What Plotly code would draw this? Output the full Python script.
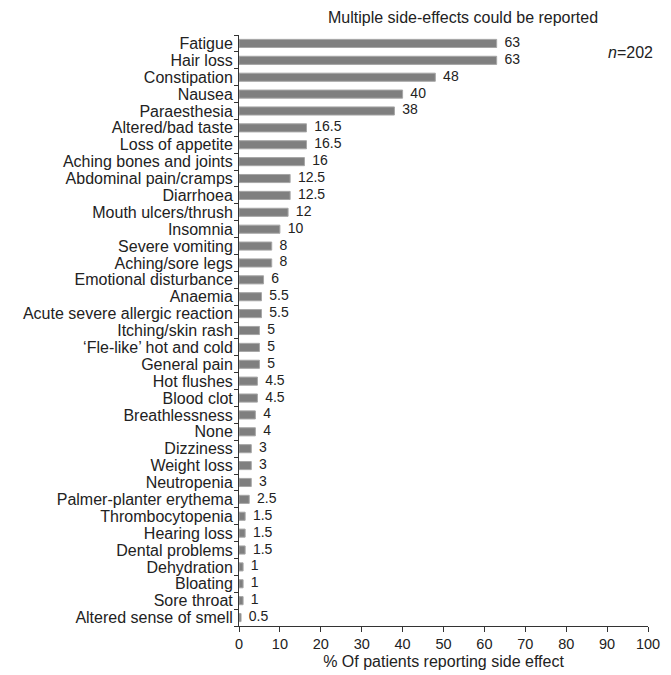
import plotly.graph_objects as go

categories = ["Fatigue", "Hair loss", "Constipation", "Nausea", "Paraesthesia",
              "Altered/bad taste", "Loss of appetite", "Aching bones and joints",
              "Abdominal pain/cramps", "Diarrhoea", "Mouth ulcers/thrush", "Insomnia",
              "Severe vomiting", "Aching/sore legs", "Emotional disturbance", "Anaemia",
              "Acute severe allergic reaction", "Itching/skin rash", "\u2018Fle-like\u2019 hot and cold",
              "General pain", "Hot flushes", "Blood clot", "Breathlessness", "None",
              "Dizziness", "Weight loss", "Neutropenia", "Palmer-planter erythema",
              "Thrombocytopenia", "Hearing loss", "Dental problems", "Dehydration",
              "Bloating", "Sore throat", "Altered sense of smell"]
values = [63, 63, 48, 40, 38, 16.5, 16.5, 16, 12.5, 12.5, 12, 10, 8, 8, 6, 5.5, 5.5,
          5, 5, 5, 4.5, 4.5, 4, 4, 3, 3, 3, 2.5, 1.5, 1.5, 1.5, 1, 1, 1, 0.5]
value_labels = ["63", "63", "48", "40", "38", "16.5", "16.5", "16", "12.5", "12.5", "12",
                "10", "8", "8", "6", "5.5", "5.5", "5", "5", "5", "4.5", "4.5", "4", "4",
                "3", "3", "3", "2.5", "1.5", "1.5", "1.5", "1", "1", "1", "0.5"]
x_ticks = [0, 10, 20, 30, 40, 50, 60, 70, 80, 90, 100]

FONT = "Liberation Sans, Arial, Helvetica, sans-serif"

fig = go.Figure()
fig.add_trace(go.Bar(
    x=values, y=categories, orientation="h",
    marker=dict(color="#7f7f7f", line=dict(color="#a6a6a6", width=1)),
    width=0.48, hoverinfo="x+y",
))
fig.add_trace(go.Scatter(
    x=values, y=categories, mode="text",
    text=["\u00a0\u00a0" + t for t in value_labels], textposition="middle right",
    textfont=dict(size=14, color="#222", family=FONT),
    cliponaxis=False, hoverinfo="skip",
))

# page body has an 8px margin, so the figure is sized/offset to compensate
fig.update_layout(
    width=663, height=667,
    margin=dict(l=231, r=23, t=27, b=49),
    paper_bgcolor="white", plot_bgcolor="white",
    font=dict(family=FONT, size=16, color="#222"),
    showlegend=False,
    annotations=[
        dict(text="Multiple side-effects could be reported", x=0.548, y=1.030,
             xref="paper", yref="paper", xanchor="center", yanchor="middle",
             showarrow=False, font=dict(size=16)),
        dict(text="<i>n</i>=202", xref="paper", yref="paper", x=1.017, y=0.971,
             xanchor="right", yanchor="middle", showarrow=False, font=dict(size=16)),
    ],
)

fig.update_xaxes(range=[0, 100], tickvals=x_ticks, showline=True, linecolor="#333",
                 linewidth=1, ticks="outside", ticklen=5, tickcolor="#333",
                 showgrid=False, zeroline=False, automargin=False,
                 title=dict(text="% Of patients reporting side effect", standoff=4,
                            font=dict(size=16)),
                 tickfont=dict(size=14.5))
fig.update_yaxes(range=[len(categories) - 0.5, -0.5],
                 categoryorder="array", categoryarray=categories,
                 tickmode="array", tickvals=categories, ticktext=categories,
                 showline=True, linecolor="#333", linewidth=1, ticks="outside",
                 ticklen=4, tickcolor="#333", tickson="boundaries", showgrid=False,
                 automargin=False, tickfont=dict(size=16), ticklabelstandoff=2)

fig.write_html("out.html")
